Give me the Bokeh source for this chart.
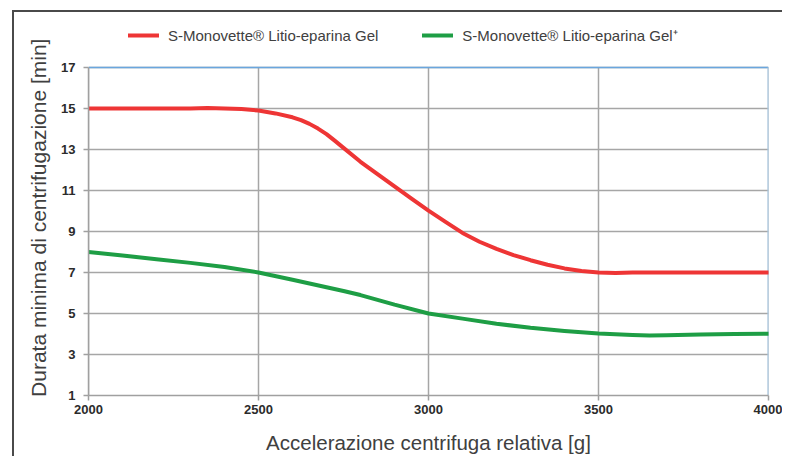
from bokeh.plotting import figure
from bokeh.models import Legend, LegendItem, Range1d, FixedTicker
from bokeh.embed import file_html
from bokeh.resources import INLINE

# Data
x_red = [2000, 2100, 2200, 2300, 2350, 2400, 2450, 2500, 2550, 2600, 2625, 2650, 2675, 2700,
         2725, 2750, 2800, 2850, 2900, 2950, 3000, 3050, 3100, 3150, 3200, 3250, 3300, 3350,
         3400, 3450, 3500, 3550, 3600, 3800, 4000]
y_red = [15.0, 15.0, 15.0, 15.0, 15.02, 15.0, 14.97, 14.9, 14.76, 14.57, 14.43, 14.25, 14.02, 13.75,
         13.42, 13.08, 12.4, 11.8, 11.2, 10.6, 10.02, 9.47, 8.93, 8.5, 8.15, 7.85, 7.6, 7.38,
         7.2, 7.07, 7.0, 6.98, 7.0, 7.0, 7.0]

x_green = [2000, 2100, 2200, 2300, 2400, 2500, 2600, 2700, 2750, 2800, 2900, 3000, 3100, 3200,
           3300, 3400, 3500, 3600, 3650, 3700, 3800, 3900, 4000]
y_green = [8.0, 7.83, 7.65, 7.47, 7.27, 7.0, 6.65, 6.28, 6.1, 5.9, 5.43, 5.0, 4.75, 4.5,
           4.3, 4.15, 4.02, 3.95, 3.93, 3.94, 3.97, 4.0, 4.01]

x_ticks = [2000, 2500, 3000, 3500, 4000]
y_ticks = [1, 3, 5, 7, 9, 11, 13, 15, 17]

label_red = "S-Monovette\u00ae Litio-eparina Gel"
label_green = "S-Monovette\u00ae Litio-eparina Gel\u207a"
x_title = "Accelerazione centrifuga relativa [g]"
y_title = "Durata minima di centrifugazione [min]"

y_lo, y_hi = y_ticks[0], y_ticks[-1]
x_lo, x_hi = x_ticks[0], x_ticks[-1]
# extra headroom above the top tick holds the legend
y_view_top = y_hi + 45 / (328 / (y_hi - y_lo))

p = figure(width=770, height=446, output_backend="svg", toolbar_location=None,
           x_range=Range1d(x_lo, x_hi), y_range=Range1d(y_lo, y_view_top),
           min_border_left=74, min_border_right=16, min_border_top=10, min_border_bottom=63)
p.styles = {"border-top": "2px solid #4a4a4a", "border-left": "2px solid #4a4a4a",
            "margin-top": "10px", "margin-left": "12px"}

p.background_fill_color = "white"
p.border_fill_color = "white"
p.outline_line_color = None

for ax in (p.xaxis[0], p.yaxis[0]):
    ax.axis_line_color = "#a0a0a0"
    ax.axis_line_width = 1.5
    ax.major_tick_line_color = "#a0a0a0"
    ax.major_tick_line_width = 1.5
    ax.major_tick_out = 5
    ax.major_tick_in = 0
    ax.minor_tick_line_color = None
    ax.major_label_text_font = "Liberation Sans"
    ax.major_label_text_font_size = "13px"
    ax.major_label_text_font_style = "bold"
    ax.major_label_text_color = "#2b2b2b"
    ax.axis_label_text_font = "Liberation Sans"
    ax.axis_label_text_font_style = "normal"
    ax.axis_label_text_color = "#404040"

p.xaxis.axis_label_text_font_size = "20.5px"
p.yaxis.axis_label_text_font_size = "21px"
p.xaxis.ticker = FixedTicker(ticks=x_ticks)
p.yaxis.ticker = FixedTicker(ticks=y_ticks)
p.yaxis.bounds = (y_lo, y_hi)
p.xaxis.axis_label = x_title
p.yaxis.axis_label = y_title + "\u00a0\u00a0\u00a0"
p.xaxis.major_label_standoff = 4
p.yaxis.major_label_standoff = 8
p.xaxis.axis_label_standoff = 14
p.yaxis.axis_label_standoff = 8

p.xgrid.visible = False
p.ygrid.ticker = FixedTicker(ticks=y_ticks)
p.ygrid.grid_line_color = "#a6a6a6"
p.ygrid.grid_line_width = 1.5

# vertical grid lines limited to the tick span
p.segment(x0=x_ticks, y0=[y_lo] * len(x_ticks), x1=x_ticks, y1=[y_hi] * len(x_ticks),
          line_color="#a6a6a6", line_width=1.5)
# light-blue top and right frame edges
p.segment(x0=[x_lo], y0=[y_hi], x1=[x_hi], y1=[y_hi], line_color="#6aa6de", line_width=1.5)
p.segment(x0=[x_hi], y0=[y_lo], x1=[x_hi], y1=[y_hi], line_color="#a8cbea", line_width=2)

r_red = p.line(x_red, y_red, line_color="#ee3535", line_width=4, line_cap="round", line_join="round")
r_green = p.line(x_green, y_green, line_color="#1e9e45", line_width=4, line_cap="round", line_join="round")

legend = Legend(items=[LegendItem(label=label_red, renderers=[r_red]),
                       LegendItem(label=label_green, renderers=[r_green])],
                location=(40, 350), orientation="horizontal", padding=0, margin=0, spacing=44,
                glyph_width=31, glyph_height=20, label_standoff=9,
                label_text_font="Liberation Sans", label_text_font_size="15px",
                label_text_color="#404040", border_line_color=None,
                background_fill_alpha=0)
p.add_layout(legend, "center")

open("out.html", "w").write(file_html(p, INLINE))
